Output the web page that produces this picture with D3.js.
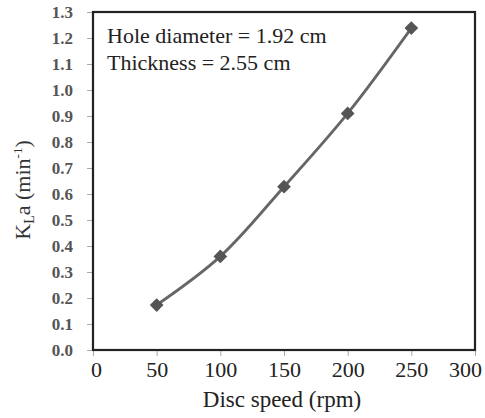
<!DOCTYPE html>
<html><head><meta charset="utf-8">
<script src="https://cdn.jsdelivr.net/npm/d3@7"></script>
<style>body{margin:0;background:#fff} svg text{font-family:"Liberation Serif",serif}</style>
</head><body>
<svg id="c" width="485" height="418"></svg>
<script>
const speeds = [50, 100, 150, 200, 250];
const kla = [0.173, 0.36, 0.628, 0.91, 1.238];
const xTicks = [0, 50, 100, 150, 200, 250, 300];
const yTicks = [0,0.1,0.2,0.3,0.4,0.5,0.6,0.7,0.8,0.9,1.0,1.1,1.2,1.3];
const notes = ["Hole diameter = 1.92 cm", "Thickness = 2.55 cm"];

const svg = d3.select("#c");
const m = {l: 93, t: 12, r: 475, b: 350};
const x = d3.scaleLinear().domain([0, 300]).range([m.l, m.r]);
const y = d3.scaleLinear().domain([0, 1.3]).range([m.b, m.t]);

const ya = svg.append("g").attr("transform", `translate(${m.l},0)`)
  .call(d3.axisLeft(y).tickValues(yTicks).tickFormat(d3.format(".1f")).tickSize(6).tickPadding(14));
ya.select(".domain").remove();
ya.selectAll("line").attr("stroke", "#aaa");
ya.selectAll("text").attr("font-size", 17).attr("font-weight", "bold").attr("fill", "#555")
  .style("font-family", '"Liberation Serif",serif');

const xa = svg.append("g").attr("transform", `translate(0,${m.b})`)
  .call(d3.axisBottom(x).tickValues(xTicks).tickFormat(d3.format("d")).tickSize(6).tickPadding(5));
xa.select(".domain").remove();
xa.selectAll("line").attr("stroke", "#aaa");
xa.selectAll("text").attr("font-size", 22).attr("fill", "#222")
  .style("font-family", '"Liberation Serif",serif')
  .attr("dx", d => d === 300 ? -10 : (d === 0 ? 3 : 0));

svg.append("rect").attr("x", m.l).attr("y", m.t).attr("width", m.r - m.l).attr("height", m.b - m.t)
  .attr("fill", "none").attr("stroke", "#222").attr("stroke-width", 2.2);

const pts = speeds.map((s, i) => [s, kla[i]]);
svg.append("path").datum(pts)
  .attr("d", d3.line().x(d => x(d[0])).y(d => y(d[1])).curve(d3.curveCatmullRom.alpha(0.5)))
  .attr("fill", "none").attr("stroke", "#666").attr("stroke-width", 2.8);

svg.selectAll("path.mk").data(pts).enter().append("path").attr("class", "mk")
  .attr("d", d3.symbol(d3.symbolDiamond2, 120))
  .attr("transform", d => `translate(${x(d[0])},${y(d[1])})`)
  .attr("fill", "#555");

svg.selectAll("text.note").data(notes).enter().append("text").attr("class", "note")
  .attr("x", 107).attr("y", (d, i) => 43 + i * 27)
  .attr("font-size", 22).attr("fill", "#222").text(d => d);

svg.append("text").attr("x", 282).attr("y", 407).attr("text-anchor", "middle")
  .attr("font-size", 23).attr("fill", "#222").text("Disc speed (rpm)");

const yt = svg.append("text").attr("transform", "translate(30,190) rotate(-90)")
  .attr("text-anchor", "middle").attr("font-size", 22).attr("fill", "#333");
yt.append("tspan").text("K");
yt.append("tspan").attr("font-size", 14).attr("dy", 4).text("L");
yt.append("tspan").attr("dy", -4).text("a (min");
yt.append("tspan").attr("font-size", 13).attr("dy", -8).text("-1");
yt.append("tspan").attr("dy", 8).text(")");
</script>
</body></html>
